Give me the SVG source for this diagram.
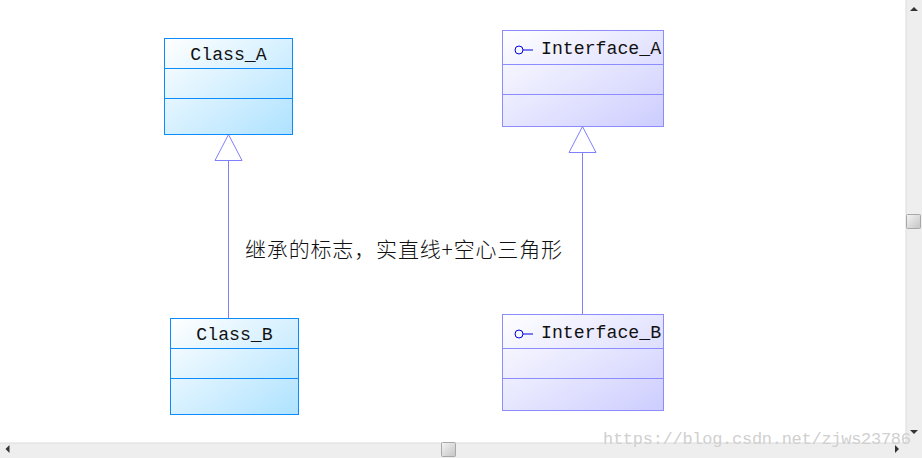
<svg xmlns="http://www.w3.org/2000/svg" width="922" height="458" viewBox="0 0 922 458">
<style>
.cb{stroke:#0a8cff;stroke-width:1;fill:url(#gc)}
.ib{stroke:#8c8cff;stroke-width:1;fill:url(#gi)}
.cl{stroke:#0a8cff;stroke-width:1;fill:none}
.il{stroke:#8c8cff;stroke-width:1;fill:none}
.conn{stroke:#8080ff;stroke-width:1;fill:none}
.tri{stroke:#8080ff;stroke-width:1;fill:#fff}
.icon{stroke:#0000e0;stroke-width:1;fill:none}
.t{font-family:"Liberation Mono","Noto Sans CJK SC",monospace;font-size:18.2px;fill:#111}
.c{font-family:"Noto Sans CJK SC","Liberation Serif",sans-serif;font-size:21px;font-weight:300;fill:#111}
.wm{font-family:"Liberation Mono",monospace;font-size:17px;fill:#d0d0d0}
.track{fill:#eeeeee;stroke:none}
.thumb{fill:url(#gt);stroke:#a8a8a8;stroke-width:1}
.ar{fill:#333;stroke:none}
</style>
<defs>
<linearGradient id="gc" x1="0" y1="0" x2="1" y2="1"><stop offset="0" stop-color="#ffffff"/><stop offset="1" stop-color="#aee2ff"/></linearGradient>
<linearGradient id="gi" x1="0" y1="0" x2="1" y2="1"><stop offset="0" stop-color="#ffffff"/><stop offset="1" stop-color="#cdcdff"/></linearGradient>
<linearGradient id="gt" x1="0" y1="0" x2="1" y2="1"><stop offset="0" stop-color="#f4f4f4"/><stop offset="1" stop-color="#c4c4c4"/></linearGradient>
</defs>
<rect width="922" height="458" fill="#fff"/>
<g id="scrollbars">
<rect class="track" x="906" y="0" width="16" height="458"/>
<rect class="track" x="0" y="443" width="906" height="15"/>
<path d="M906 0V443H0" fill="none" stroke="#dcdcdc"/>
<path class="ar" d="M914 7l-4 4h8z"/>
<path class="ar" d="M914 434l-4-4h8z"/>
<path class="ar" d="M5.500 449l4-4v8z"/>
<path class="ar" d="M899 449l-4-4v8z"/>
<rect class="thumb" x="906.500" y="214.500" width="14" height="14" rx="1"/>
<rect class="thumb" x="441.500" y="442.500" width="14" height="14" rx="1"/>
</g>
<g id="connectors">
<line class="conn" x1="228.500" y1="160.500" x2="228.500" y2="318"/>
<path class="tri" d="M228.500 134.500L242 160.500H215Z"/>
<line class="conn" x1="582.500" y1="152.500" x2="582.500" y2="314"/>
<path class="tri" d="M582.500 126.500L596 152.500H569Z"/>
</g>
<g id="class-a">
<rect class="cb" x="164.500" y="38.500" width="128" height="96"/>
<path class="cl" d="M164.500 68.500H292.500M164.500 98.500H292.500"/>
<text class="t" x="228.500" y="59.500" text-anchor="middle">Class_A</text>
</g>
<g id="class-b">
<rect class="cb" x="170.500" y="318.500" width="128" height="96"/>
<path class="cl" d="M170.500 348.500H298.500M170.500 378.500H298.500"/>
<text class="t" x="234.500" y="339.500" text-anchor="middle">Class_B</text>
</g>
<g id="interface-a">
<rect class="ib" x="502.500" y="30.500" width="161" height="96"/>
<path class="il" d="M502.500 64.500H663.500M502.500 94.500H663.500"/>
<circle class="icon" cx="519" cy="50" r="4"/>
<line class="icon" x1="523" y1="50" x2="533" y2="50"/>
<text class="t" x="541" y="53.500">Interface_A</text>
</g>
<g id="interface-b">
<rect class="ib" x="502.500" y="314.500" width="161" height="96"/>
<path class="il" d="M502.500 348.500H663.500M502.500 378.500H663.500"/>
<circle class="icon" cx="519" cy="334" r="4"/>
<line class="icon" x1="523" y1="334" x2="533" y2="334"/>
<text class="t" x="541" y="337.500">Interface_B</text>
</g>
<text class="c" x="245" y="257" textLength="317" lengthAdjust="spacing">继承的标志，实直线+空心三角形</text>
<text class="wm" x="603" y="444" textLength="308" lengthAdjust="spacing">https://blog.csdn.net/zjws23786</text>
</svg>
